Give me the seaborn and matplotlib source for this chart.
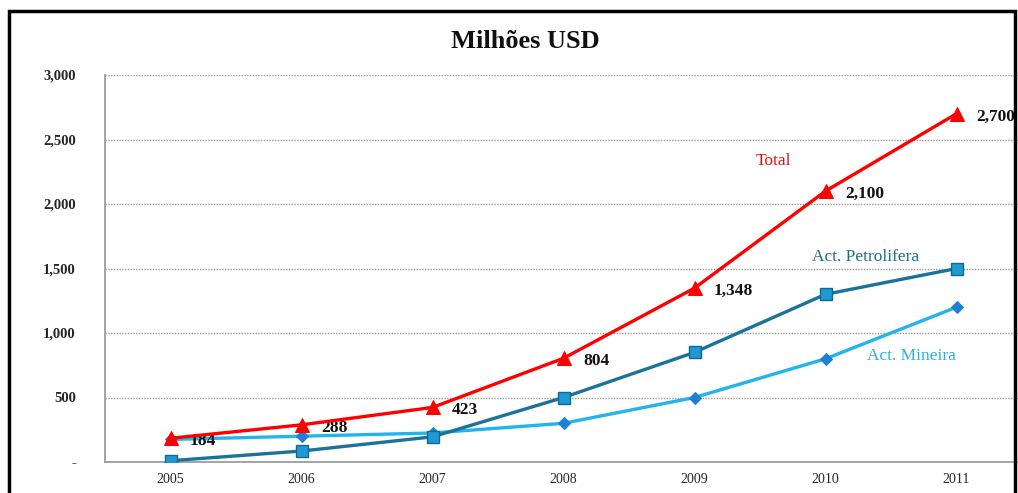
import matplotlib
matplotlib.use("Agg")
import matplotlib.pyplot as plt
import matplotlib.patches as mpatches
import seaborn as sns
import pandas as pd
import numpy as np

years = ["2005", "2006", "2007", "2008", "2009", "2010", "2011"]
total = [184, 288, 423, 804, 1348, 2100, 2700]
petrolifera = [10, 85, 195, 500, 850, 1300, 1500]
mineira = [175, 200, 225, 300, 500, 800, 1200]
yticks = [0, 500, 1000, 1500, 2000, 2500, 3000]
ytick_labels = ["-", "500", "1,000", "1,500", "2,000", "2,500", "3,000"]

sns.set_theme(style="white")
plt.rcParams["font.family"] = ["Liberation Serif", "DejaVu Serif"]

fig = plt.figure(figsize=(10.18, 4.93), dpi=100)
ax = fig.add_axes([105/1018, 1 - 462/493, (1022-105)/1018, (462-75)/493])

x = np.arange(len(years))
df = pd.DataFrame({"x": x, "total": total, "petro": petrolifera, "min": mineira})

sns.lineplot(data=df, x="x", y="min", ax=ax, color="#22B4EA", lw=2.4,
             marker="D", markersize=6, markerfacecolor="#1F7FD0",
             markeredgecolor="#1F7FD0", zorder=3)
sns.lineplot(data=df, x="x", y="petro", ax=ax, color="#1B7399", lw=2.4,
             marker="s", markersize=9, markerfacecolor="#1D9AD6",
             markeredgecolor="#17668A", markeredgewidth=1, zorder=4)
sns.lineplot(data=df, x="x", y="total", ax=ax, color="#FF0000", lw=2.4,
             marker="^", markersize=10, markerfacecolor="#FF0000",
             markeredgecolor="#FF0000", zorder=5)

for xi, v in zip(x, total):
    ax.annotate(f"{v:,}", (xi, v), xytext=(14, -2), textcoords="offset points",
                fontsize=12.5, fontweight="bold", color="#111111", ha="left", va="center")

ax.text(4.47, 2300, "Total", color="#E01010", fontsize=12.5)
ax.text(4.9, 1560, "Act. Petrolifera", color="#1B6E90", fontsize=12.5)
ax.text(5.32, 790, "Act. Mineira", color="#2AB0E0", fontsize=12.5)

ax.set_xlim(-0.5, 6.5)
ax.set_ylim(0, 3000)
ax.set_xticks(x)
ax.set_xticklabels(years, fontsize=10)
ax.set_yticks(yticks)
ax.set_yticklabels(ytick_labels, fontsize=10.5, fontweight="bold")
ax.set_xlabel("")
ax.set_ylabel("")
ax.tick_params(axis="y", length=0, pad=21)
ax.tick_params(axis="x", length=0, pad=8)
ax.yaxis.grid(True, color="#9A9A9A", lw=1.0, ls=(0, (1, 1)))
for s in ["top", "right"]:
    ax.spines[s].set_visible(False)
ax.spines["left"].set_color("#999999")
ax.spines["left"].set_linestyle((0, (1, 1)))
ax.spines["bottom"].set_color("#999999")
ax.spines["bottom"].set_linestyle((0, (1, 1)))

fig.text(525/1018, 1 - 42/493, "Milhões USD", ha="center", va="center",
         fontsize=19, fontweight="bold", color="#111111")

rect = mpatches.Rectangle((9/1018, -0.05), (1015-9)/1018, (1 - 11/493) + 0.05,
                          transform=fig.transFigure, fill=False, ec="black",
                          lw=2.5, clip_on=False)
fig.patches.append(rect)

fig.savefig("out.png", dpi=100)
